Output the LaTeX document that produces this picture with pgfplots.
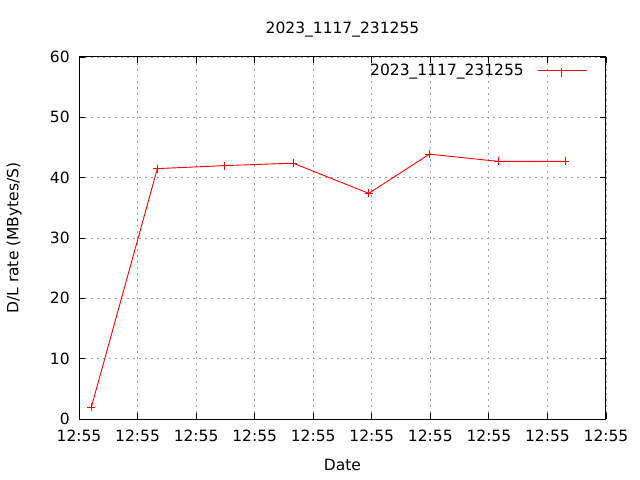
\documentclass[border=0pt]{standalone}
\usepackage{pgfplots}
\pgfplotsset{compat=1.18}
\usepackage{fontspec}
\setmainfont{DejaVu Sans}
\definecolor{gridgray}{RGB}{160,160,160}
\begin{document}
\begin{tikzpicture}
\fontsize{15.5bp}{18bp}\selectfont
\useasboundingbox (0,0) rectangle (640bp,480bp);
\begin{axis}[
  at={(79bp,61bp)}, anchor=south west,
  scale only axis, width=527bp, height=362bp,
  xmin=0, xmax=9, ymin=0, ymax=60,
  xtick={0,1,2,3,4,5,6,7,8,9},
  xticklabels={12:55,12:55,12:55,12:55,12:55,12:55,12:55,12:55,12:55,12:55},
  ytick={0,10,20,30,40,50,60},
  /pgf/number format/assume math mode=true,
  tick label style={font=\fontsize{15.5bp}{18bp}\selectfont},
  xticklabel style={yshift=-6bp},
  yticklabel style={xshift=-4bp},
  label style={font=\fontsize{15.5bp}{18bp}\selectfont},
  title style={font=\fontsize{15.5bp}{18bp}\selectfont, at={(0.5,1)}, anchor=center, yshift=21bp},
  xlabel style={at={(0.5,0)}, anchor=center, yshift=-46bp},
  ylabel style={at={(0,0.5)}, anchor=center, yshift=65bp},
  title={2023\_1117\_231255},
  xlabel={Date},
  ylabel={D/L rate (MBytes/S)},
  tick align=inside, major tick length=6bp,
  tick style={black, line width=0.8bp},
  axis line style={black, line width=1bp},
  grid=major,
  major grid style={gridgray, line width=0.8bp, dash pattern=on 2bp off 4bp},
  legend plot pos=right,
  legend style={draw=none, fill=none, at={(1,1)}, anchor=north east, xshift=-16bp, yshift=-3bp,
    font=\fontsize{15.5bp}{18bp}\selectfont,
    /tikz/column 1/.style={column sep=12bp}},
  legend image code/.code={
    \node[text=red, inner sep=0pt, anchor=west] at (0bp,0bp) {\rule[-0.5bp]{49bp}{1bp}};
    \node[text=red, inner sep=0pt] at (24.5bp,0bp) {\rule[-4.5bp]{1bp}{9bp}};},
]
\addplot[red, line width=0.9bp, mark=+, mark size=4bp, mark options={red,solid}] coordinates {
(0.21,1.94)
(1.338,41.5)
(2.49,42.0)
(3.658,42.4)
(4.949,37.4)
(5.985,43.9)
(7.157,42.7)
(8.30,42.7)
};
\addlegendentry{2023\_1117\_231255}
\end{axis}
\end{tikzpicture}
\end{document}
